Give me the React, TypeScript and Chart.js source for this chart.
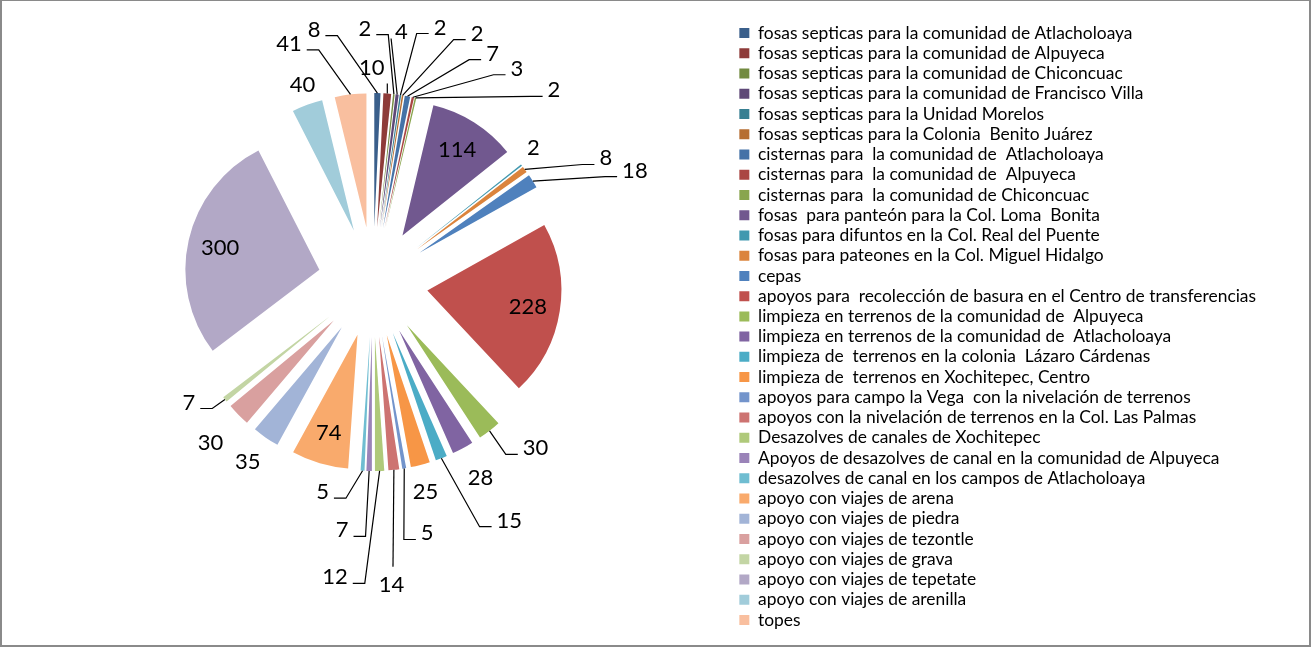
import { useEffect, useRef } from 'react';
import { Chart, registerables } from 'chart.js';

Chart.register(...registerables);

// ---------------- data ----------------
const categories = [
  'fosas septicas para la comunidad de Atlacholoaya',
  'fosas septicas para la comunidad de Alpuyeca',
  'fosas septicas para la comunidad de Chiconcuac',
  'fosas septicas para la comunidad de Francisco Villa',
  'fosas septicas para la Unidad Morelos',
  'fosas septicas para la Colonia  Benito Juárez',
  'cisternas para  la comunidad de  Atlacholoaya',
  'cisternas para  la comunidad de  Alpuyeca',
  'cisternas para  la comunidad de Chiconcuac',
  'fosas  para panteón para la Col. Loma  Bonita',
  'fosas para difuntos en la Col. Real del Puente',
  'fosas para pateones en la Col. Miguel Hidalgo',
  'cepas',
  'apoyos para  recolección de basura en el Centro de transferencias',
  'limpieza en terrenos de la comunidad de  Alpuyeca',
  'limpieza en terrenos de la comunidad de  Atlacholoaya',
  'limpieza de  terrenos en la colonia  Lázaro Cárdenas',
  'limpieza de  terrenos en Xochitepec, Centro',
  'apoyos para campo la Vega  con la nivelación de terrenos',
  'apoyos con la nivelación de terrenos en la Col. Las Palmas',
  'Desazolves de canales de Xochitepec',
  'Apoyos de desazolves de canal en la comunidad de Alpuyeca',
  'desazolves de canal en los campos de Atlacholoaya',
  'apoyo con viajes de arena',
  'apoyo con viajes de piedra',
  'apoyo con viajes de tezontle',
  'apoyo con viajes de grava',
  'apoyo con viajes de tepetate',
  'apoyo con viajes de arenilla',
  'topes',
];

const values = [
  8, 10, 2, 4, 2, 2, 7, 3, 2, 114, 2, 8, 18, 228, 30, 28, 15, 25, 5, 14, 12, 7, 5, 74, 35, 30, 7,
  300, 40, 41,
];

const sliceColors = [
  '#3A5F8B', '#8E3B39', '#728A40', '#5E4877', '#377F92', '#B66E32',
  '#4572A7', '#AA4643', '#89A54E', '#71588F', '#4198AF', '#DB843D',
  '#4F81BD', '#C0504D', '#9BBB59', '#8064A2', '#4BACC6', '#F79646',
  '#7394CB', '#CD7371', '#AFC97A', '#9A83B8', '#6FBDD1', '#F9AA6C',
  '#A2B4D7', '#D9A09F', '#C3D5A4', '#B2A8C6', '#A1CCDA', '#F9BF9F',
];

// label placement: 'in' = inside slice; 'out' = outside, no leader;
// 'L' / 'R' = leader with elbow attached to left / right side of text;
// 'L0' = straight leader to left side; 'T' = leader to top; 'B' = short vertical leader
const labelModes = [
  'R', 'B', 'R', 'L0', 'L', 'L', 'L', 'L', 'L', 'in',
  'out', 'L', 'L', 'in', 'L', 'out', 'L', 'out', 'L', 'T',
  'R', 'R', 'R', 'in', 'out', 'out', 'R', 'in', 'out', 'R',
];

// offset of the label centre from the slice's outer edge point (px)
const labelShifts: [number, number][] = [
  [-63.4, -64], [-15.5, -26], [-29, -66], [4.3, -62.6], [39.6, -68],
  [74.4, -62.3], [85, -43], [104, -29], [138.4, -8], [0, 0],
  [12, -18], [81, -11.4], [102, -11], [0, 0], [46, 17],
  [17.7, 29.7], [68, 62], [5, 27], [23, 64.6], [-2.4, 115],
  [-44.6, 106], [-27, 59], [-40, 21], [0, 0], [-18, 24],
  [-28, 28], [-36, 2.6], [0, 0], [-4.7, -20], [-61.5, -51],
];

// ---------------- layout / style ----------------
const W = 1311;
const H = 648;
const FONT = 'Lato';
const PIE_RADIUS = 134;
const EXPLODE = 55;
const INSIDE_FRAC = 0.76;
const LEGEND_FONT = 17.4;
const LEGEND_GAP = 2.84;
const LEGEND_BOX = 10;
const LEGEND_LEFT = 736.5;
const PAD_LEFT = 9.5;
const PAD_TOP = 5;
const BOTTOM_SPACE = 89;
const LABEL_FONT = 22;

const explodePlugin = {
  id: 'explodeSlices',
  afterDatasetUpdate(_chart: any, args: any) {
    const arcs = args.meta.data as any[];
    arcs.forEach((arc) => {
      const mid = (arc.startAngle + arc.endAngle) / 2;
      arc.x += Math.cos(mid) * EXPLODE;
      arc.y += Math.sin(mid) * EXPLODE;
    });
  },
};

const labelPlugin = {
  id: 'sliceLabels',
  afterDatasetsDraw(chart: any) {
    const ctx: CanvasRenderingContext2D = chart.ctx;
    const meta = chart.getDatasetMeta(0);
    ctx.save();
    ctx.font = `${LABEL_FONT}px ${FONT}`;
    ctx.fillStyle = '#000';
    ctx.strokeStyle = '#000';
    ctx.lineWidth = 1.2;
    ctx.textAlign = 'center';
    ctx.textBaseline = 'alphabetic';
    meta.data.forEach((arc: any, i: number) => {
      const text = String(values[i]);
      const m = ctx.measureText(text);
      const w = m.width;
      const asc = m.actualBoundingBoxAscent;
      const mid = (arc.startAngle + arc.endAngle) / 2;
      const cx = Math.cos(mid);
      const cy = Math.sin(mid);
      const R = arc.outerRadius;
      const mode = labelModes[i];
      let tx: number;
      let ty: number;
      if (mode === 'in') {
        tx = arc.x + cx * R * INSIDE_FRAC;
        ty = arc.y + cy * R * INSIDE_FRAC;
      } else {
        const ex = arc.x + cx * R;
        const ey = arc.y + cy * R;
        tx = ex + labelShifts[i][0];
        ty = ey + labelShifts[i][1];
        let pts: [number, number][] = [];
        const ly = ty + 6.5;
        if (mode === 'L') {
          const px = tx - w / 2 - 5;
          pts = [[ex, ey], [px - 12, ly], [px, ly]];
        } else if (mode === 'R') {
          const px = tx + w / 2 + 5;
          pts = [[ex, ey], [px + 12, ly], [px, ly]];
        } else if (mode === 'L0') {
          pts = [[ex, ey], [tx - w / 2 - 4, ly]];
        } else if (mode === 'T') {
          pts = [[ex, ey], [tx + 1.5, ty - 18]];
        } else if (mode === 'B') {
          pts = [[ex, ey], [ex, ty + 16]];
        }
        if (pts.length) {
          ctx.beginPath();
          ctx.moveTo(pts[0][0], pts[0][1]);
          for (let k = 1; k < pts.length; k++) ctx.lineTo(pts[k][0], pts[k][1]);
          ctx.stroke();
        }
      }
      ctx.fillText(text, tx, ty + asc / 2);
    });
    ctx.restore();
  },
};

export default function App() {
  const ref = useRef<HTMLCanvasElement>(null);

  useEffect(() => {
    if (!ref.current) return;
    // legend width so that its left edge sits at LEGEND_LEFT
    const mctx = document.createElement('canvas').getContext('2d')!;
    mctx.font = `${LEGEND_FONT}px ${FONT}`;
    const maxText = Math.max(...categories.map((c) => mctx.measureText(c).width));
    const legendWidth = LEGEND_GAP + LEGEND_BOX + LEGEND_FONT / 2 + maxText + 10;
    const padRight = W - LEGEND_LEFT - legendWidth;

    const chart = new Chart(ref.current, {
      type: 'pie',
      data: {
        labels: categories,
        datasets: [
          {
            data: values,
            backgroundColor: sliceColors,
            borderWidth: 0,
            offset: 0,
            hoverOffset: 0,
          },
        ],
      },
      options: {
        responsive: false,
        animation: false,
        events: [],
        radius: PIE_RADIUS,
        layout: {
          padding: { left: PAD_LEFT, top: PAD_TOP, right: padRight, bottom: 0 },
        },
        plugins: {
          tooltip: { enabled: false },
          title: {
            display: true,
            text: '',
            position: 'bottom',
            fullSize: false,
            font: { size: 12 },
            padding: { top: 0, bottom: BOTTOM_SPACE - 14.4 },
          },
          legend: {
            display: true,
            position: 'right',
            align: 'center',
            labels: {
              boxWidth: LEGEND_BOX,
              boxHeight: LEGEND_BOX,
              padding: LEGEND_GAP,
              color: '#000',
              font: { family: FONT, size: LEGEND_FONT },
            },
          },
        },
      } as any,
      plugins: [explodePlugin, labelPlugin],
    });
    return () => chart.destroy();
  }, []);

  return (
    <div style={{ position: 'relative', width: W, height: H, background: '#fff' }}>
      <style>{`body{margin:0;background:#fff}`}</style>
      <canvas ref={ref} width={W} height={H} style={{ display: 'block' }} />
      <div
        style={{
          position: 'absolute',
          left: 0,
          top: 0,
          width: W,
          height: H - 1,
          boxSizing: 'border-box',
          borderStyle: 'solid',
          borderColor: '#8a8a8a',
          borderWidth: '1px 2px 2px 2px',
          pointerEvents: 'none',
        }}
      />
    </div>
  );
}
